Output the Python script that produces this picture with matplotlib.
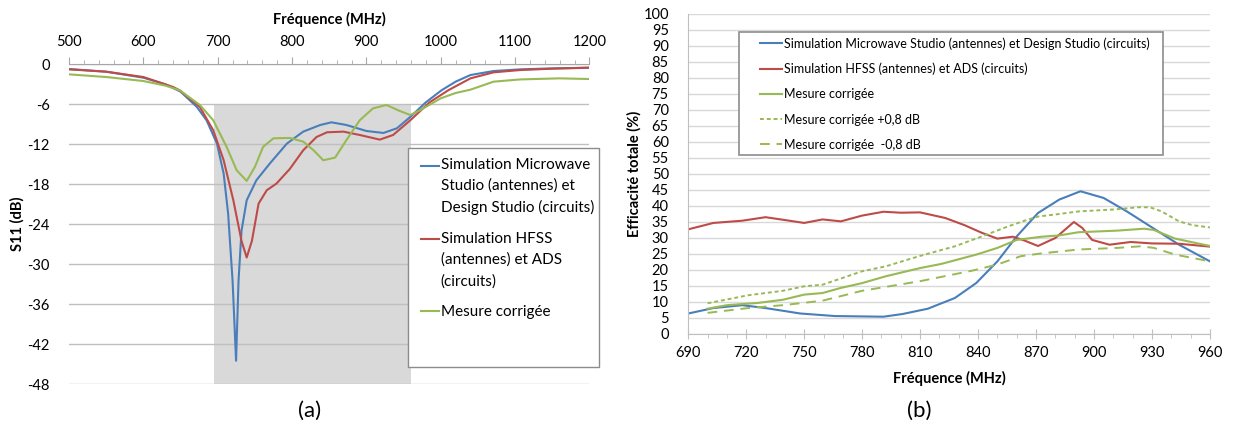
import numpy as np
import matplotlib.pyplot as plt
from matplotlib.ticker import MultipleLocator
from matplotlib.patches import Rectangle

plt.rcParams['font.family'] = ['Lato', 'DejaVu Sans']
plt.rcParams['axes.unicode_minus'] = False

# ---- (a) S11 vs frequency ----
freq_a_mws = [500, 550, 600, 630, 650, 672, 685, 699, 708, 714, 720, 724.7, 728, 732, 739, 752,
              770, 793, 815, 838, 853, 873, 900, 923, 941, 959, 980, 1001, 1020, 1040, 1071, 1107, 1150, 1200]
s11_mws = [-0.7, -1.1, -2.0, -3.0, -4.1, -6.4, -8.4, -11.9, -16.4, -22.4, -32.5, -44.5, -32.5, -25.0, -20.4, -17.4,
           -14.9, -11.9, -10.1, -9.1, -8.7, -9.1, -10.0, -10.3, -9.6, -7.9, -5.7, -3.9, -2.6, -1.6, -1.0, -0.75, -0.6, -0.5]

freq_a_hfss = [500, 550, 600, 640, 649, 676, 694, 708, 721, 732, 739, 746, 755, 766, 779, 797, 815,
               833, 847, 869, 891, 918, 936, 959, 985, 1010, 1040, 1071, 1107, 1150, 1200]
s11_hfss = [-0.75, -1.1, -1.9, -3.4, -3.9, -6.4, -9.9, -14.4, -20.4, -26.5, -29.0, -26.5, -20.9, -18.9, -17.9, -15.7, -12.9,
            -10.9, -10.2, -10.1, -10.6, -11.3, -10.6, -8.4, -5.7, -3.9, -2.1, -1.2, -0.85, -0.65, -0.5]

freq_a_mes = [500, 550, 600, 630, 649, 676, 694, 712, 725.5, 739, 750, 761, 775, 797, 815, 829, 842, 858,
              873, 891, 909, 927, 945, 959, 972, 1000, 1020, 1040, 1071, 1107, 1160, 1200]
s11_mes = [-1.5, -1.9, -2.5, -3.2, -3.9, -6.1, -8.4, -12.4, -15.9, -17.5, -15.4, -12.4, -11.1, -11.05, -11.6, -12.9, -14.4, -14.0,
           -11.4, -8.4, -6.6, -6.1, -7.0, -7.6, -6.9, -5.1, -4.3, -3.8, -2.6, -2.26, -2.1, -2.2]

band = (695, 960)

# ---- (b) total efficiency vs frequency ----
freq_b_mws = [690, 703, 718, 730, 748, 766, 791, 801, 814, 828, 839, 850, 860, 871, 882, 893, 905, 917, 930, 944, 960]
eff_mws = [6.4, 8.1, 9.0, 8.1, 6.4, 5.6, 5.4, 6.25, 7.9, 11.25, 15.9, 22.7, 30.5, 37.8, 42.0, 44.6, 42.5, 38.3, 33.3, 27.9, 22.7]

freq_b_hfss = [690, 703, 718, 730, 739, 750, 759.5, 769, 780, 791, 800, 810, 823, 833, 842, 850, 858, 864,
               871, 880, 889.6, 894, 899, 908, 919, 930, 944, 960]
eff_hfss = [32.7, 34.7, 35.4, 36.5, 35.7, 34.7, 35.8, 35.2, 37.0, 38.2, 37.9, 38.0, 36.25, 34.0, 31.6, 29.8, 30.4, 29.2,
            27.5, 30.0, 35.0, 33.1, 29.4, 27.9, 28.75, 28.3, 28.2, 27.3]

freq_b_mes = [700, 710, 726, 739, 750, 759.5, 769, 780, 792, 810, 821, 839, 850, 860, 873, 882, 892, 912, 926, 931, 942, 960]
eff_mes = [7.9, 9.0, 9.7, 10.7, 12.3, 12.8, 14.4, 15.9, 18.0, 20.6, 21.9, 24.8, 26.9, 29.4, 30.4, 30.8, 31.8, 32.3, 32.9, 32.5, 29.8, 27.5]

freq_b_plus = [700, 721, 739, 750, 759.5, 780, 792, 810, 828, 842, 855, 864, 871, 882, 892, 910, 923, 929, 935, 944, 951, 960]
eff_plus = [9.6, 12.1, 13.5, 14.9, 15.4, 19.6, 21.1, 24.4, 27.4, 30.5, 33.5, 35.4, 36.7, 37.5, 38.3, 38.9, 39.6, 39.6, 38.3, 35.2, 34.0, 33.3]

freq_b_minus = [700, 721, 739, 759.5, 780, 810, 837, 850, 862, 873, 892, 912, 924, 931, 942, 960]
eff_minus = [6.6, 8.1, 9.0, 10.4, 13.5, 16.5, 19.8, 21.7, 24.3, 25.2, 26.4, 26.9, 27.4, 26.9, 24.8, 22.7]

blue = '#4A7EBB'
red = '#BE4B48'
green = '#98B954'

fig = plt.figure(figsize=(12.33, 4.32), dpi=100)

# ---------- left chart ----------
ax1 = fig.add_axes([0.056, 0.111, 0.422, 0.740])
ax1.fill_between(band, -48, -6, color='#D9D9D9', lw=0, zorder=0.2)
ax1.plot(freq_a_mws, s11_mws, color=blue, lw=1.5,
         label='Simulation Microwave\nStudio (antennes) et\nDesign Studio (circuits)')
ax1.plot(freq_a_hfss, s11_hfss, color=red, lw=1.5,
         label='Simulation HFSS\n(antennes) et ADS\n(circuits)')
ax1.plot(freq_a_mes, s11_mes, color=green, lw=1.5, label='Mesure corrigée')
ax1.set_xlim(500, 1200)
ax1.set_ylim(-48, 0)
ax1.set_yticks(np.arange(-48, 1, 6))
ax1.xaxis.set_major_locator(MultipleLocator(100))
ax1.xaxis.set_minor_locator(MultipleLocator(20))
ax1.xaxis.tick_top()
ax1.xaxis.set_label_position('top')
ax1.set_axisbelow(True)
ax1.grid(axis='y', color='#BFBFBF', lw=1.0)
for s in ['left', 'right', 'bottom']:
    ax1.spines[s].set_visible(False)
ax1.spines['top'].set_color('#A6A6A6')
ax1.tick_params(axis='x', which='major', direction='out', length=5, color='#A6A6A6', labelsize=10.5, pad=6)
ax1.tick_params(axis='x', which='minor', direction='out', length=3, color='#A6A6A6')
ax1.tick_params(axis='y', length=0, labelsize=10.5, pad=14)
ax1.set_xlabel('Fréquence (MHz)', fontweight='bold', fontsize=10.5, labelpad=8)
ax1.set_ylabel('S11 (dB)', fontweight='bold', fontsize=10.5, labelpad=2)

# legend box (fixed size, like the spreadsheet one)
ax1.add_patch(Rectangle((0.6515, 0.0532), 0.3671, 0.6848, transform=ax1.transAxes, facecolor='white',
                        edgecolor='#8C8C8C', lw=1.0, clip_on=False, zorder=4))
leg1 = ax1.legend(loc='upper left', bbox_to_anchor=(0.6758, 0.708), fontsize=11, frameon=False,
                  borderaxespad=0, borderpad=0, handlelength=1.2, handletextpad=0.1, labelspacing=1.1)
leg1.set_zorder(5)
for t in leg1.get_texts():
    t.set_linespacing(1.6)
for h in leg1.legend_handles[:2]:
    h.set_ydata(np.asarray(h.get_ydata()) + 15.0)

# ---------- right chart ----------
ax2 = fig.add_axes([0.5582, 0.2269, 0.4231, 0.7407])
ax2.plot(freq_b_mws, eff_mws, color=blue, lw=1.5,
         label='Simulation Microwave Studio (antennes) et Design Studio (circuits)')
ax2.plot(freq_b_hfss, eff_hfss, color=red, lw=1.5, label='Simulation HFSS (antennes) et ADS (circuits)')
ax2.plot(freq_b_mes, eff_mes, color=green, lw=1.5, label='Mesure corrigée')
ax2.plot(freq_b_plus, eff_plus, color=green, lw=1.4, ls=(0, (2, 1.5)), label='Mesure corrigée +0,8 dB')
ax2.plot(freq_b_minus, eff_minus, color=green, lw=1.4, ls=(0, (5, 3.5)), label='Mesure corrigée  -0,8 dB')
ax2.set_xlim(690, 960)
ax2.set_ylim(0, 100)
ax2.set_yticks(np.arange(0, 101, 5))
ax2.xaxis.set_major_locator(MultipleLocator(30))
ax2.xaxis.set_minor_locator(MultipleLocator(10))
ax2.set_axisbelow(True)
ax2.grid(axis='y', color='#D9D9D9', lw=1.0)
for s in ['top', 'right']:
    ax2.spines[s].set_visible(False)
ax2.spines['left'].set_color('#BFBFBF')
ax2.spines['bottom'].set_color('#BFBFBF')
ax2.tick_params(axis='x', which='major', direction='inout', length=7, color='#BFBFBF', labelsize=10.5, pad=5)
ax2.tick_params(axis='x', which='minor', direction='out', length=3, color='#BFBFBF')
ax2.tick_params(axis='y', length=0, labelsize=10.5, pad=14)
ax2.set_xlabel('Fréquence (MHz)', fontweight='bold', fontsize=10.5, labelpad=8)
ax2.set_ylabel('Efficacité totale (%)', fontweight='bold', fontsize=10.5, labelpad=1)

ax2.add_patch(Rectangle((0.0981, 0.5584), 0.8119, 0.3863, transform=ax2.transAxes, facecolor='white',
                        edgecolor='#8C8C8C', lw=1.2, clip_on=False, zorder=4))
leg2 = ax2.legend(loc='upper left', bbox_to_anchor=(0.1374, 0.928), fontsize=9, frameon=False,
                  borderaxespad=0, borderpad=0, handlelength=1.75, handletextpad=0.15, labelspacing=1.05)
leg2.set_zorder(5)

fig.text(0.2514, 0.05, '(a)', ha='center', va='center', fontsize=16)
fig.text(0.7455, 0.05, '(b)', ha='center', va='center', fontsize=16)

fig.savefig('out.png', dpi=100)
